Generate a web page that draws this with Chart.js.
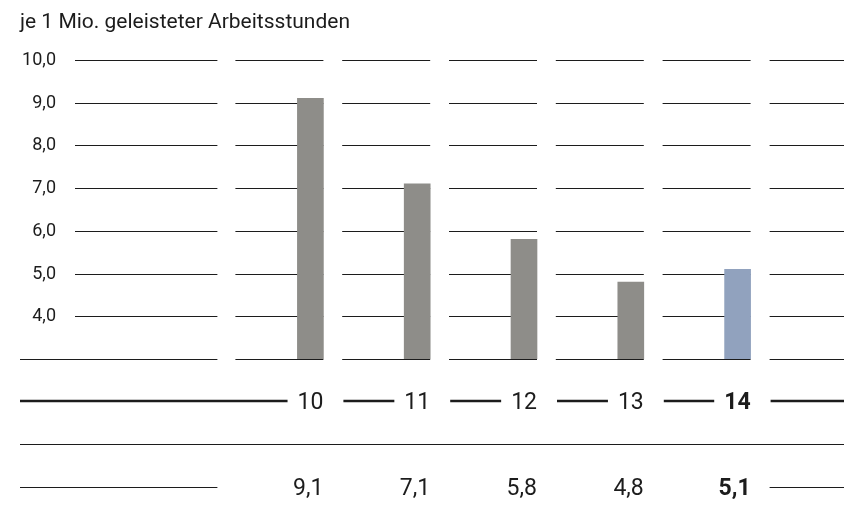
<!DOCTYPE html>
<html>
<head>
<meta charset="utf-8">
<script src="https://cdn.jsdelivr.net/npm/chart.js@4.4.1/dist/chart.umd.min.js"></script>
<style>
  html, body { margin: 0; padding: 0; background: #fff; }
  #wrap { width: 844px; height: 525px; position: relative; }
</style>
</head>
<body>
<div id="wrap"><canvas id="myChart" width="844" height="525"></canvas></div>
<script>
// values
const years = ['10', '11', '12', '13', '14'];
const rates = [9.1, 7.1, 5.8, 4.8, 5.1];
const rateLabels = ['9,1', '7,1', '5,8', '4,8', '5,1'];
const barColors = ['#8e8d89', '#8e8d89', '#8e8d89', '#8e8d89', '#91a2be'];
const title = 'je 1 Mio. geleisteter Arbeitsstunden';

const FONT = 'Roboto';
const INK = '#1c1c1c';
const BAR_W = 26;

// segmented grid, y labels and the table under the bars
const tablePlugin = {
    id: 'table',
    beforeDatasetsDraw(chart) {
        const c = chart.ctx;
        const xs = chart.scales.x, ys = chart.scales.y;
        const W = chart.width;
        c.save();
        c.strokeStyle = INK;
        c.lineWidth = 1;
        ys.ticks.forEach(t => {
            const y = Math.round(ys.getPixelForValue(t.value)) + 0.5;
            var segs = [];
            const firstStart = xs.getPixelForValue(0) + BAR_W / 2 - 88;
            // the baseline reaches out to the left edge of the table
            segs.push([t.value === ys.min ? 20 : 75, firstStart - 18]);
            years.forEach((yr, i) => {
                const r = xs.getPixelForValue(i) + BAR_W / 2;
                segs.push([r - 88, r]);
            });
            segs.push([xs.getPixelForValue(years.length - 1) + BAR_W / 2 + 19, W]);
            segs.forEach(s => {
                c.beginPath(); c.moveTo(s[0], y); c.lineTo(s[1], y); c.stroke();
            });
            if (t.value > ys.min) {
                c.fillStyle = INK;
                c.font = '18px ' + FONT;
                c.textAlign = 'right';
                c.textBaseline = 'middle';
                c.fillText(t.value.toFixed(1).replace('.', ','), 56, y);
            }
        });
        c.restore();
    },
    afterDraw(chart) {
        const c = chart.ctx;
        const xs = chart.scales.x;
        const W = chart.width;
        const n = years.length;
        c.save();
        c.fillStyle = INK;
        c.strokeStyle = INK;

        // title
        c.font = '21px ' + FONT;
        c.textAlign = 'left';
        c.textBaseline = 'alphabetic';
        c.fillText(title, 20, 28);

        // row of years
        const y1 = 401;
        c.textBaseline = 'middle';
        c.textAlign = 'right';
        c.lineWidth = 2.5;
        var lineStart = 20;
        years.forEach((yr, i) => {
            const r = xs.getPixelForValue(i) + BAR_W / 2;
            c.font = (i === n - 1 ? 'bold ' : '') + '23px ' + FONT;
            const w = c.measureText(yr).width;
            c.beginPath(); c.moveTo(lineStart, y1); c.lineTo(r - w - 10, y1); c.stroke();
            c.fillText(yr, r, y1 + 2);
            lineStart = r + 20;
        });
        c.beginPath(); c.moveTo(lineStart, y1); c.lineTo(W, y1); c.stroke();

        // separator
        c.lineWidth = 1;
        c.beginPath(); c.moveTo(20, 444.5); c.lineTo(W, 444.5); c.stroke();

        // row of values
        const y3 = 487.5;
        const firstR = xs.getPixelForValue(0) + BAR_W / 2;
        c.beginPath(); c.moveTo(20, y3); c.lineTo(firstR - 88 - 18, y3); c.stroke();
        rateLabels.forEach((v, i) => {
            const r = xs.getPixelForValue(i) + BAR_W / 2;
            c.font = (i === n - 1 ? 'bold ' : '') + '23px ' + FONT;
            c.fillText(v, r, y3 + 2);
        });
        const lastR = xs.getPixelForValue(n - 1) + BAR_W / 2;
        c.beginPath(); c.moveTo(lastR + 19, y3); c.lineTo(W, y3); c.stroke();
        c.restore();
    }
};

const ctx = document.getElementById('myChart');

var chart_config = {
    type: 'bar',
    data: {
        labels: years,
        datasets: [{
            label: 'Unfälle',
            data: rates,
            backgroundColor: barColors,
            borderWidth: 0,
            barThickness: BAR_W
        }]
    },
    options: {
        responsive: false,
        animation: false,
        events: [],
        layout: {
            padding: { left: 257, right: 53, top: 60, bottom: 166 }
        },
        plugins: {
            legend: { display: false },
            tooltip: { enabled: false }
        },
        scales: {
            x: { display: false, offset: true },
            y: { display: false, min: 3, max: 10, ticks: { stepSize: 1 } }
        }
    },
    plugins: [tablePlugin]
};

var chart = new Chart(ctx, chart_config);
</script>
</body>
</html>
